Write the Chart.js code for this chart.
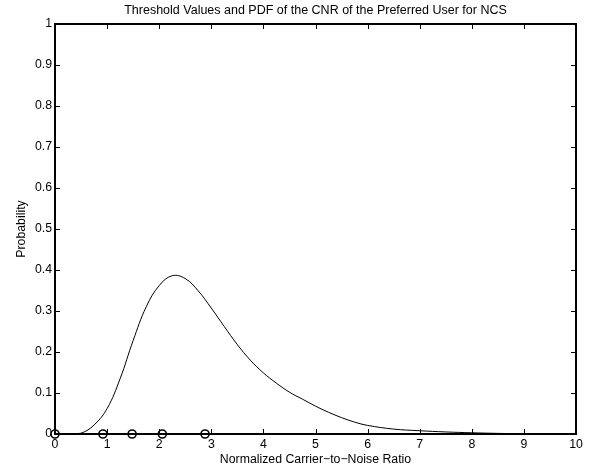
<!DOCTYPE html>
<html>
<head>
<meta charset="utf-8">
<script src="https://cdn.jsdelivr.net/npm/chart.js@4/dist/chart.umd.min.js"></script>
<style>
html,body{margin:0;padding:0;background:#fff;}
#wrap{width:602px;height:473px;}
</style>
</head>
<body>
<div id="wrap"><canvas id="c" width="602" height="473"></canvas></div>
<script>
// Data
const cnrX = [0, 0.25, 0.5, 0.75, 1.0, 1.25, 1.5, 1.75, 2.0, 2.25, 2.5, 2.75, 3.0, 3.25, 3.5, 3.75, 4.0, 4.25, 4.5, 4.75, 5.0, 5.25, 5.5, 5.75, 6.0, 6.5, 7.0, 7.5, 8.0, 8.5, 9.0, 9.5, 10.0];
const pdfValues = [0, 0, 0.002, 0.022, 0.062, 0.135, 0.228, 0.31, 0.362, 0.386, 0.379, 0.349, 0.307, 0.262, 0.218, 0.18, 0.149, 0.124, 0.102, 0.085, 0.068, 0.053, 0.04, 0.029, 0.021, 0.012, 0.008, 0.005, 0.003, 0.0015, 0.0006, 0.0002, 0];
const thresholdX = [0, 0.92, 1.48, 2.06, 2.88];
const thresholdY = [0, 0, 0, 0, 0];
const xTicks = [0,1,2,3,4,5,6,7,8,9,10];
const yTicks = [0,0.1,0.2,0.3,0.4,0.5,0.6,0.7,0.8,0.9,1];
const titleText = 'Threshold Values and PDF of the CNR of the Preferred User for NCS';
const xTitle = 'Normalized Carrier\u2212to\u2212Noise Ratio';
const yTitle = 'Probability';

const FONT = 'Liberation Sans, Arial, Helvetica, sans-serif';
const FS = 12.3;

const boxPlugin = {
  id: 'boxTicks',
  afterDatasetsDraw(chart) {
    const {ctx, chartArea: a, scales: {x, y}} = chart;
    ctx.save();
    ctx.strokeStyle = '#000';
    ctx.lineWidth = 1;
    const L = 5;
    ctx.beginPath();
    xTicks.forEach(v => {
      const px = Math.round(x.getPixelForValue(v)) + 0.5;
      ctx.moveTo(px, a.bottom); ctx.lineTo(px, a.bottom - L);
      ctx.moveTo(px, a.top); ctx.lineTo(px, a.top + L);
    });
    yTicks.forEach(v => {
      const py = Math.round(y.getPixelForValue(v)) + 0.5;
      ctx.moveTo(a.left, py); ctx.lineTo(a.left + L, py);
      ctx.moveTo(a.right, py); ctx.lineTo(a.right - L, py);
    });
    ctx.stroke();
    ctx.lineWidth = 2;
    ctx.strokeRect(a.left, a.top, a.right - a.left, a.bottom - a.top);
    // title centred over the plot area
    ctx.fillStyle = '#000';
    ctx.font = '12.5px ' + FONT;
    ctx.textAlign = 'center';
    ctx.textBaseline = 'middle';
    ctx.fillText(titleText, (a.left + a.right) / 2, 10.5);
    ctx.restore();
  }
};

new Chart(document.getElementById('c'), {
  type: 'line',
  data: {
    datasets: [
      {
        label: 'PDF',
        data: cnrX.map((v, i) => ({x: v, y: pdfValues[i]})),
        borderColor: '#000',
        borderWidth: 1,
        pointRadius: 0,
        tension: 0.4,
        fill: false
      },
      {
        label: 'Thresholds',
        data: thresholdX.map((v, i) => ({x: v, y: thresholdY[i]})),
        borderColor: '#000',
        borderWidth: 2,
        showLine: true,
        pointRadius: 4,
        pointBorderWidth: 1.6,
        pointBackgroundColor: 'rgba(0,0,0,0)',
        pointBorderColor: '#000',
        fill: false
      }
    ]
  },
  options: {
    responsive: false,
    animation: false,
    clip: false,
    layout: {padding: {top: 24, left: 0, right: 26, bottom: 0}},
    plugins: {
      legend: {display: false},
      tooltip: {enabled: false},
      title: {display: false}
    },
    scales: {
      x: {
        type: 'linear',
        min: 0, max: 10,
        afterBuildTicks: s => { s.ticks = xTicks.map(v => ({value: v})); },
        afterFit: s => { s.height = 39; },
        grid: {display: true, drawOnChartArea: false, drawTicks: false},
        border: {display: false},
        ticks: {color: '#000', padding: 3, font: {family: FONT, size: FS}, callback: v => String(v), maxRotation: 0},
        title: {display: true, text: xTitle, color: '#000', font: {family: FONT, size: FS, lineHeight: 1.2}, padding: {top: 0, bottom: 5.6}}
      },
      y: {
        type: 'linear',
        min: 0, max: 1,
        afterBuildTicks: s => { s.ticks = yTicks.map(v => ({value: v})); },
        afterFit: s => { s.width = 55; },
        grid: {display: true, drawOnChartArea: false, drawTicks: false},
        border: {display: false},
        ticks: {color: '#000', padding: 3, font: {family: FONT, size: FS}, callback: v => String(v)},
        title: {display: true, text: yTitle, color: '#000', font: {family: FONT, size: FS, lineHeight: 1.2}, padding: {top: 14.6, bottom: 0}}
      }
    }
  },
  plugins: [boxPlugin]
});
</script>
</body>
</html>
